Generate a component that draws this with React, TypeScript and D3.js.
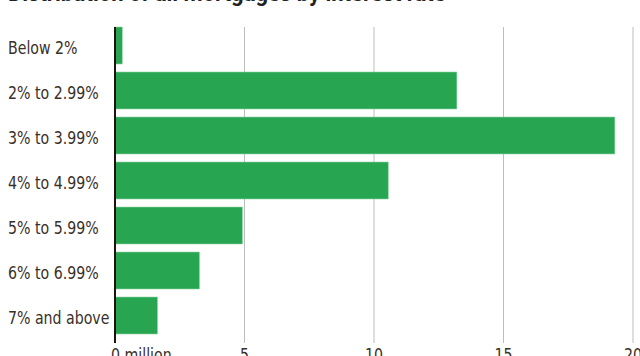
import React from "react";
import * as d3 from "d3";

const title = "Distribution of all mortgages by interest rate";
const categories = ["Below 2%", "2% to 2.99%", "3% to 3.99%", "4% to 4.99%", "5% to 5.99%", "6% to 6.99%", "7% and above"];
const values = [0.28, 13.2, 19.3, 10.55, 4.92, 3.26, 1.64];
const ticks = [0, 5, 10, 15, 20];
const tickLabels = ["0 million", "5", "10", "15", "20"];

const W = 640;
const H = 356;
const LABEL_FONT = "'Liberation Sans Narrow', 'DejaVu Sans Condensed', 'Roboto', sans-serif";

export default function App() {
  const x = d3.scaleLinear().domain([0, 20]).range([115, 633]);
  const y = d3.scaleBand<string>().domain(categories).range([27, 334]).paddingInner(0.178).paddingOuter(0);
  const gridTop = 27;
  const gridBottom = 343;
  return (
    <div style={{ position: "fixed", left: 0, top: 0 }}>
      <svg width={W} height={H} style={{ display: "block", background: "#fff" }}>
        <text x={8} y={1} fontFamily="Roboto, sans-serif" fontWeight={700} fontSize={22} fill="#222">
          {title}
        </text>
        {ticks.slice(1).map((t) => (
          <line key={t} x1={x(t)} x2={x(t)} y1={gridTop} y2={gridBottom} stroke="#bdbdbd" strokeWidth={1} />
        ))}
        {categories.map((c, i) => (
          <rect
            key={c}
            x={x(0)}
            y={y(c)}
            width={x(values[i]) - x(0)}
            height={y.bandwidth()}
            fill="#28a551"
            stroke="#8fd3a6"
            strokeWidth={0.6}
          />
        ))}
        {categories.map((c) => (
          <text
            key={c}
            transform={`translate(8,${(y(c) as number) + y.bandwidth() / 2 + 8.5}) scale(0.9,1)`}
            fontFamily={LABEL_FONT}
            fontSize={17.5}
            fill="#3a302a"
          >
            {c}
          </text>
        ))}
        <line x1={x(0)} x2={x(0)} y1={gridTop} y2={gridBottom} stroke="#1e120c" strokeWidth={2} />
        {ticks.map((t, i) => (
          <text
            key={t}
            transform={`translate(${i === 0 ? x(t) - 4 : x(t)},361) scale(0.9,1)`}
            textAnchor={i === 0 ? "start" : "middle"}
            fontFamily={LABEL_FONT}
            fontSize={17.5}
            fill="#3a302a"
          >
            {tickLabels[i]}
          </text>
        ))}
      </svg>
    </div>
  );
}
